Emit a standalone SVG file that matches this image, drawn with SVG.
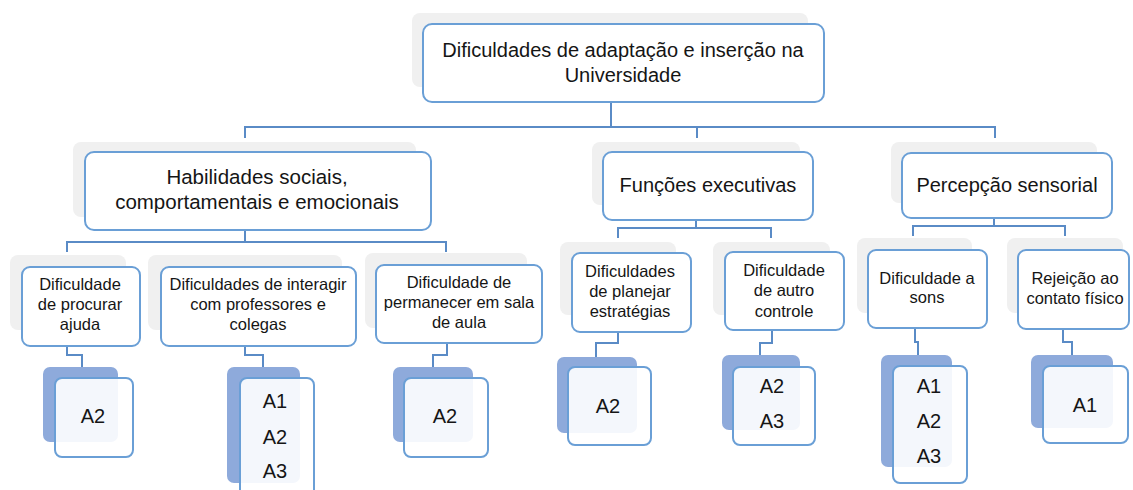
<svg xmlns="http://www.w3.org/2000/svg" width="1133" height="490" viewBox="0 0 1133 490">
<style>
.sh{fill:#f0f0f0}
.bx{fill:#ffffff;stroke:#6a9fd6;stroke-width:2}
.bk{fill:#8eaadb}
.fr{fill:#ffffff;fill-opacity:0.9;stroke:#6a9fd6;stroke-width:2}
.cn{fill:none;stroke:#5a8bc6;stroke-width:2}
text{font-family:"Liberation Sans",Arial,sans-serif;fill:#151515;text-anchor:middle}
.t1{font-size:20px}
.t2{font-size:20.5px}
.t3{font-size:16.5px}
.ta{font-size:20px}
</style>
<rect width="1133" height="490" fill="#ffffff"/>
<g id="connectors">
<path class="cn" d="M611,101 V127 M245,138 V127 H995 V138 M697,127 V138"/>
<path class="cn" d="M245,230 V242 M67,252 V242 H446 V252"/>
<path class="cn" d="M696,220 V228 M618,238 V228 H771 V238"/>
<path class="cn" d="M994,218 V226 M913,236 V226 H1065 V236"/>
<path class="cn" d="M67,346 V355 H82 V367"/>
<path class="cn" d="M245,346 V355 H263 V367"/>
<path class="cn" d="M447,343 V355 H433 V367"/>
<path class="cn" d="M618,332 V343 H596 V357"/>
<path class="cn" d="M772,330 V343 H760 V355"/>
<path class="cn" d="M915,328 V342 H918 V355"/>
<path class="cn" d="M1063,329 V342 H1072 V355"/>
</g>
<g id="n-root">
<rect class="sh" x="412" y="13" width="396" height="74" rx="8"/>
<rect class="bx" x="423" y="24" width="401" height="78" rx="9"/>
<text class="t1" x="623" y="57">Dificuldades de adaptação e inserção na</text>
<text class="t1" x="623" y="82">Universidade</text>
</g>
<g id="n-habilidades">
<rect class="sh" x="73" y="142" width="343" height="75" rx="8"/>
<rect class="bx" x="85" y="152" width="346" height="78" rx="9"/>
<text class="t2" x="257" y="184">Habilidades sociais,</text>
<text class="t2" x="257" y="209">comportamentais e emocionais</text>
</g>
<g id="n-funcoes">
<rect class="sh" x="592" y="142" width="208" height="63" rx="8"/>
<rect class="bx" x="603" y="152" width="210" height="68" rx="9"/>
<text class="t1" x="708" y="192">Funções executivas</text>
</g>
<g id="n-percepcao">
<rect class="sh" x="891" y="142" width="206" height="61" rx="8"/>
<rect class="bx" x="902" y="153" width="210" height="65" rx="9"/>
<text class="t1" x="1007" y="192">Percepção sensorial</text>
</g>
<g id="n-procurar">
<rect class="sh" x="10" y="255" width="116" height="75" rx="8"/>
<rect class="bx" x="22" y="267" width="118" height="79" rx="8"/>
<text class="t3" x="80" y="290">Dificuldade</text>
<text class="t3" x="80" y="310">de procurar</text>
<text class="t3" x="80" y="330">ajuda</text>
</g>
<g id="n-interagir">
<rect class="sh" x="148" y="255" width="194" height="75" rx="8"/>
<rect class="bx" x="161" y="267" width="195" height="79" rx="8"/>
<text class="t3" x="258" y="290">Dificuldades de interagir</text>
<text class="t3" x="258" y="310">com professores e</text>
<text class="t3" x="258" y="330">colegas</text>
</g>
<g id="n-permanecer">
<rect class="sh" x="365" y="253" width="162" height="75" rx="8"/>
<rect class="bx" x="376" y="265" width="166" height="78" rx="8"/>
<text class="t3" x="459" y="288">Dificuldade de</text>
<text class="t3" x="459" y="308">permanecer em sala</text>
<text class="t3" x="459" y="328">de aula</text>
</g>
<g id="n-planejar">
<rect class="sh" x="560" y="242" width="116" height="73" rx="8"/>
<rect class="bx" x="572" y="253" width="119" height="79" rx="8"/>
<text class="t3" x="630" y="277">Dificuldades</text>
<text class="t3" x="630" y="297">de planejar</text>
<text class="t3" x="630" y="317">estratégias</text>
</g>
<g id="n-autro">
<rect class="sh" x="713" y="242" width="117" height="73" rx="8"/>
<rect class="bx" x="725" y="252" width="119" height="78" rx="8"/>
<text class="t3" x="784" y="276">Dificuldade</text>
<text class="t3" x="784" y="296">de autro</text>
<text class="t3" x="784" y="317">controle</text>
</g>
<g id="n-sons">
<rect class="sh" x="857" y="238" width="115" height="75" rx="8"/>
<rect class="bx" x="868" y="250" width="119" height="78" rx="8"/>
<text class="t3" x="927" y="284">Dificuldade a</text>
<text class="t3" x="927" y="303">sons</text>
</g>
<g id="n-rejeicao">
<rect class="sh" x="1007" y="238" width="116" height="75" rx="8"/>
<rect class="bx" x="1018" y="250" width="111" height="79" rx="8"/>
<text class="t3" x="1075" y="284">Rejeição ao</text>
<text class="t3" x="1075" y="304">contato físico</text>
</g>
<g id="a-procurar">
<rect class="bk" x="43" y="367" width="75" height="75" rx="7"/>
<rect class="fr" x="55" y="378" width="78" height="79" rx="7"/>
<text class="ta" x="93" y="423">A2</text>
</g>
<g id="a-interagir">
<rect class="bk" x="227" y="367" width="73" height="116" rx="7"/>
<rect class="fr" x="240" y="378" width="74" height="124" rx="7"/>
<text class="ta" x="275" y="408">A1</text>
<text class="ta" x="275" y="444">A2</text>
<text class="ta" x="275" y="478">A3</text>
</g>
<g id="a-permanecer">
<rect class="bk" x="393" y="367" width="80" height="75" rx="7"/>
<rect class="fr" x="404" y="378" width="84" height="79" rx="7"/>
<text class="ta" x="445" y="423">A2</text>
</g>
<g id="a-planejar">
<rect class="bk" x="557" y="357" width="80" height="76" rx="7"/>
<rect class="fr" x="568" y="367" width="83" height="78" rx="7"/>
<text class="ta" x="608" y="413">A2</text>
</g>
<g id="a-autro">
<rect class="bk" x="722" y="355" width="78" height="75" rx="7"/>
<rect class="fr" x="733" y="367" width="82" height="78" rx="7"/>
<text class="ta" x="772" y="393">A2</text>
<text class="ta" x="772" y="428">A3</text>
</g>
<g id="a-sons">
<rect class="bk" x="881" y="355" width="71" height="112" rx="7"/>
<rect class="fr" x="893" y="366" width="74" height="117" rx="7"/>
<text class="ta" x="929" y="393">A1</text>
<text class="ta" x="929" y="428">A2</text>
<text class="ta" x="929" y="463">A3</text>
</g>
<g id="a-rejeicao">
<rect class="bk" x="1031" y="355" width="82" height="73" rx="7"/>
<rect class="fr" x="1043" y="366" width="85" height="77" rx="7"/>
<text class="ta" x="1085" y="412">A1</text>
</g>
</svg>
